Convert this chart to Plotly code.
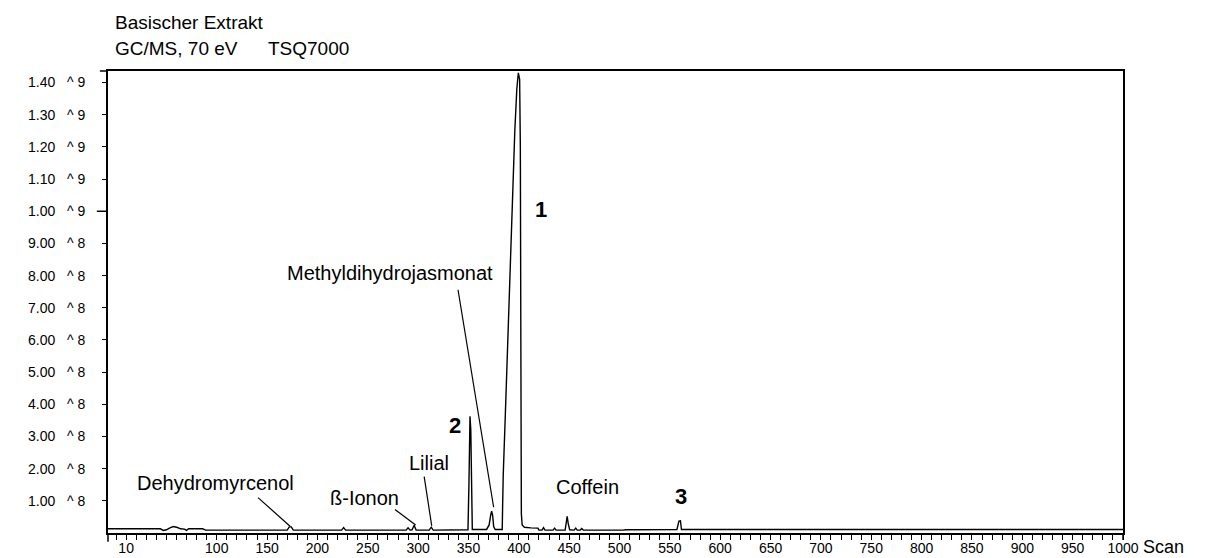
import plotly.graph_objects as go

# ---------------- data ----------------
# vertices of the total-ion trace: scan number and intensity in units of 1e8 counts
scan = [-8, 44, 47, 50, 54, 57, 61, 64, 68, 70, 72, 86, 89,
        170, 172, 174, 176, 224, 226, 228,
        288, 290, 292, 294, 296, 298, 311, 313, 315,
        349.5, 350.5, 351.5, 352.3, 353, 353.8,
        368, 370.5, 372, 373, 374, 375, 376.5,
        383.5, 384, 384.5, 386.5, 389, 391.5, 394, 396, 398, 399.5, 400.8, 401.5, 402, 402.5, 403.3,
        405.5, 412, 419, 420, 423, 424.5, 426, 434, 435.5, 437,
        446, 447.2, 448, 449, 450.5, 455, 456.5, 458, 461, 462.5, 464,
        504, 506, 557, 558, 559, 560.5, 561, 561.5, 1000]
intensity_e8 = [0.13, 0.13, 0.08, 0.10, 0.17, 0.20, 0.17, 0.13, 0.12, 0.08, 0.13, 0.13, 0.09,
                0.09, 0.19, 0.19, 0.09, 0.09, 0.17, 0.09,
                0.09, 0.16, 0.09, 0.10, 0.24, 0.09, 0.09, 0.18, 0.09,
                0.10, 1.6, 3.63, 3.2, 1.0, 0.11,
                0.11, 0.25, 0.55, 0.68, 0.55, 0.20, 0.11,
                0.11, 1.0, 1.8, 3.6, 6.1, 8.5, 10.7, 12.5, 13.8, 14.3, 14.1, 12.0, 6.0, 0.6, 0.25,
                0.18, 0.16, 0.15, 0.09, 0.09, 0.17, 0.09, 0.09, 0.15, 0.09,
                0.09, 0.35, 0.52, 0.30, 0.10, 0.09, 0.15, 0.09, 0.09, 0.14, 0.09,
                0.09, 0.10, 0.11, 0.28, 0.37, 0.38, 0.20, 0.11, 0.11]

# axis ticks
x_tick_values = [10, 100, 150, 200, 250, 300, 350, 400, 450, 500, 550, 600,
                 650, 700, 750, 800, 850, 900, 950, 1000]
x_tick_text = ["10", "100", "150", "200", "250", "300", "350", "400", "450", "500", "550", "600",
               "650", "700", "750", "800", "850", "900", "950", "1000"]
y_tick_values = [1, 2, 3, 4, 5, 6, 7, 8, 9, 10, 11, 12, 13, 14]
y_tick_mantissa = ["1.00", "2.00", "3.00", "4.00", "5.00", "6.00", "7.00", "8.00", "9.00",
                   "1.00", "1.10", "1.20", "1.30", "1.40"]
y_tick_exponent = ["8", "8", "8", "8", "8", "8", "8", "8", "8", "9", "9", "9", "9", "9"]

# peak labels: text, scan, intensity (e8), bold
label_text = ["Dehydromyrcenol", "ß-Ionon", "Lilial", "2", "Methyldihydrojasmonat", "1", "Coffein", "3"]
label_scan = [99, 247, 311, 337, 272, 422, 468, 561]
label_int = [1.54, 1.10, 2.19, 3.34, 8.09, 10.05, 1.44, 1.13]
label_bold = [False, False, False, True, False, True, False, True]

# leader lines: start (scan, intensity) -> end (scan, intensity)
leader_x0 = [141, 277, 306, 339.6]
leader_y0 = [1.10, 0.73, 1.75, 7.56]
leader_x1 = [172.8, 297.5, 313.5, 375.0]
leader_y1 = [0.21, 0.25, 0.22, 0.80]

FONT = "Liberation Sans, Arial, sans-serif"

fig = go.Figure()
fig.add_trace(go.Scatter(x=scan, y=intensity_e8, mode="lines",
                         line=dict(color="black", width=1.4), hoverinfo="skip",
                         showlegend=False))

y_tick_text = [m + "\u00a0\u00a0\u00a0^\u00a0" + e for m, e in zip(y_tick_mantissa, y_tick_exponent)]

fig.update_layout(
    width=1226, height=558,
    margin=dict(l=108, r=103, t=71, b=25, autoexpand=False),
    paper_bgcolor="white", plot_bgcolor="white",
    font=dict(family=FONT, color="black"),
    xaxis=dict(range=[-8, 1000], showgrid=False, zeroline=False,
               showline=True, linecolor="black", linewidth=2, mirror=True,
               ticks="outside", ticklen=5, tickwidth=1.3, tickcolor="black",
               tickvals=x_tick_values, ticktext=x_tick_text,
               ticklabelstandoff=-4,
               tickfont=dict(size=14, family=FONT, color="black"),
               minor=dict(tick0=0, dtick=10, ticks="outside", ticklen=5,
                          tickwidth=1.3, tickcolor="black", showgrid=False)),
    yaxis=dict(range=[0, 14.36], showgrid=False, zeroline=False,
               showline=True, linecolor="black", linewidth=2, mirror=True,
               ticks="outside", ticklen=4, tickwidth=1.3, tickcolor="black",
               tickvals=y_tick_values, ticktext=y_tick_text,
               ticklabelstandoff=14,
               tickfont=dict(size=14, family=FONT, color="black")),
)

# longer ticks at 1.00 ^9, the frame top and the x-axis ends
fig.add_shape(type="line", xref="paper", yref="y", x0=-0.011, x1=0, y0=10, y1=10,
              line=dict(color="black", width=1.5))
fig.add_shape(type="line", xref="paper", yref="paper", x0=-0.008, x1=0, y0=1, y1=1,
              line=dict(color="black", width=1.5))
fig.add_shape(type="line", xref="paper", yref="paper", x0=0, x1=0, y0=0, y1=-0.019,
              line=dict(color="black", width=1.5))
fig.add_shape(type="line", xref="paper", yref="paper", x0=1, x1=1, y0=0, y1=-0.015,
              line=dict(color="black", width=1.5))

for x0, y0, x1, y1 in zip(leader_x0, leader_y0, leader_x1, leader_y1):
    fig.add_shape(type="line", xref="x", yref="y", x0=x0, y0=y0, x1=x1, y1=y1,
                  line=dict(color="black", width=1.2))

for t, xs, yv, b in zip(label_text, label_scan, label_int, label_bold):
    fig.add_annotation(x=xs, y=yv, xref="x", yref="y", showarrow=False,
                       text=f"<b>{t}</b>" if b else t,
                       font=dict(size=22 if b else 20, family=FONT, color="black"),
                       xanchor="center", yanchor="middle")

# header texts
fig.add_annotation(x=5 / 1015, y=1.0 + (71 - 22) / 462.5, xref="paper", yref="paper",
                   text="Basischer Extrakt", showarrow=False, xanchor="left", yanchor="middle",
                   font=dict(size=19, family=FONT, color="black"))
fig.add_annotation(x=5 / 1015, y=1.0 + (71 - 48) / 462.5, xref="paper", yref="paper",
                   text="GC/MS, 70 eV", showarrow=False, xanchor="left", yanchor="middle",
                   font=dict(size=19, family=FONT, color="black"))
fig.add_annotation(x=(266 - 108) / 1015, y=1.0 + (71 - 48) / 462.5, xref="paper", yref="paper",
                   text="TSQ7000", showarrow=False, xanchor="left", yanchor="middle",
                   font=dict(size=19, family=FONT, color="black"))
fig.add_annotation(x=1.0 + 18 / 1015, y=-(548 - 533.5) / 462.5, xref="paper", yref="paper",
                   text="Scan", showarrow=False, xanchor="left", yanchor="middle",
                   font=dict(size=18, family=FONT, color="black"))

fig.write_html("out.html", config={"displayModeBar": False},
               post_script="document.body.style.margin='0px';document.body.style.padding='0px';")
